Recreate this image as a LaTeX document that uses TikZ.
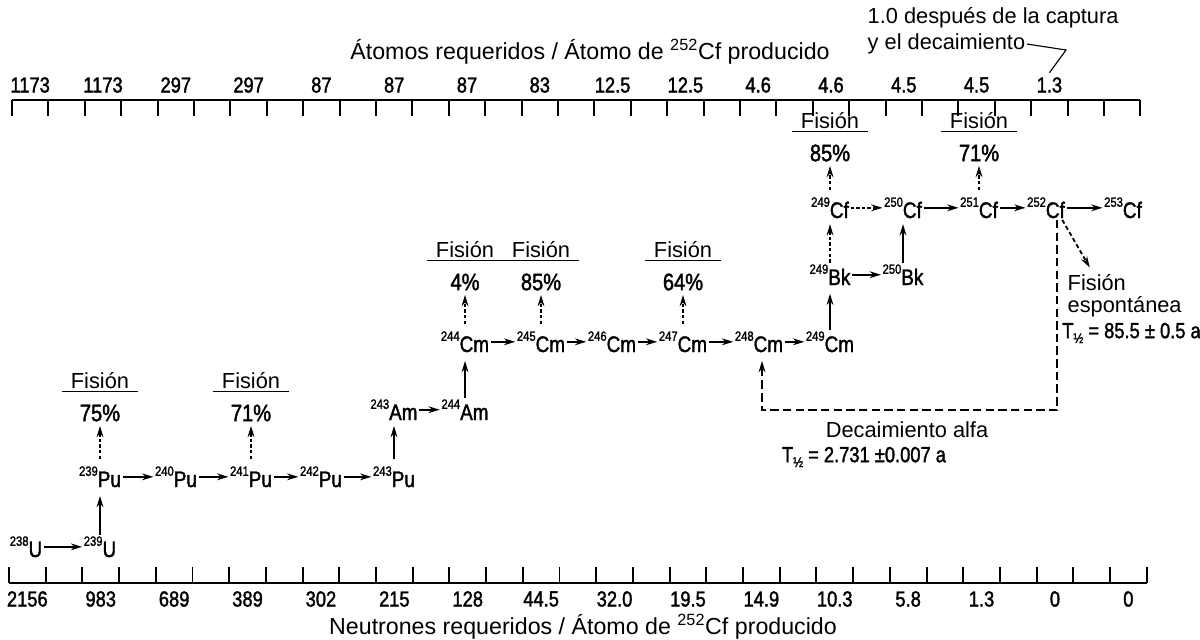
\documentclass[tikz,border=0pt]{standalone}
\usepackage{fontspec}
\setmainfont{Liberation Sans}
\newfontfamily\dinfont[FakeStretch=0.84, FakeBold=1.6]{Liberation Sans}
\usetikzlibrary{arrows.meta}
\newcommand\nucl[2]{\raisebox{8pt}{\fontsize{9.5}{9.5}\selectfont #1}#2}
\newcommand\thalf{T\raisebox{-3.5pt}{\fontsize{10}{10}\selectfont ½}}

\begin{document}
\begin{tikzpicture}[x=0.025cm, y=-0.025cm,
  nuc/.style={font=\dinfont\fontsize{16}{16}\selectfont, inner sep=1pt, anchor=base},
  num/.style={font=\dinfont\fontsize{15.5}{15.5}\selectfont, inner sep=0pt},
  pct/.style={font=\dinfont\fontsize{17}{17}\selectfont, inner sep=0pt},
  txt/.style={font=\fontsize{15.5}{18}\selectfont, inner sep=1pt},
  fisname/.style={txt, minimum width=54pt, inner sep=1.5pt},
  react/.style={-{Stealth[length=8pt,width=4.8pt]}, line width=1.3pt},
  reactd/.style={react, dash pattern=on 2.5pt off 1.5pt},
  alfa/.style={react, dash pattern=on 6pt off 3pt},
  axis/.style={line width=1.4pt},
  rule/.style={line width=1.3pt}]
\path[use as bounding box, fill=white] (0,0) rectangle (1200,639);

\draw[axis] (12,100) -- (1140.4,100);
\foreach \i in {0,...,31} \draw[axis] (12+36.4*\i,100) -- (12+36.4*\i,116);
\foreach \v [count=\i from 0] in {1173,1173,297,297,87,87,87,83,12.5,12.5,4.6,4.6,4.5,4.5,1.3}
  \node[num] (tl\i) at (30.2+72.8*\i,85) {\v};
\node[txt, font=\fontsize{16.5}{18}\selectfont] (ttop) at (590,52) {Átomos requeridos / Átomo de \textsuperscript{252}Cf producido};
\node[txt, anchor=west] (nota1) at (866,18) {1.0 después de la captura};
\node[txt, anchor=west] (nota2) at (866,44) {y el decaimiento};
\coordinate (kink) at (1066,50);
\draw[line width=0.8pt] (nota2.east) -- (kink) -- ([yshift=3pt]tl14.north);

\draw[axis] (9,583) -- (1146.7,583);
\foreach \i in {0,...,31} \draw[axis] (9+36.7*\i,583) -- (9+36.7*\i,567);
\foreach \v [count=\i from 0] in {2156,983,689,389,302,215,128,44.5,32.0,19.5,14.9,10.3,5.8,1.3,0,0}
  \node[num] (bl\i) at (27.35+73.4*\i,599) {\v};
\node[txt, font=\fontsize{16.5}{18}\selectfont] (tbot) at (583,627) {Neutrones requeridos / Átomo de \textsuperscript{252}Cf producido};

\node[nuc] (u238) at (26,557) {\nucl{238}{U}};
\node[nuc] (u239) at (100,557) {\nucl{239}{U}};
\node[nuc] (pu239) at (100,487) {\nucl{239}{Pu}};
\node[nuc] (pu240) at (176,487) {\nucl{240}{Pu}};
\node[nuc] (pu241) at (251,487) {\nucl{241}{Pu}};
\node[nuc] (pu242) at (321,487) {\nucl{242}{Pu}};
\node[nuc] (pu243) at (394,487) {\nucl{243}{Pu}};
\node[nuc] (am243) at (394,420) {\nucl{243}{Am}};
\node[nuc] (am244) at (465,420) {\nucl{244}{Am}};
\node[nuc] (cm244) at (465,352) {\nucl{244}{Cm}};
\node[nuc] (cm245) at (541,352) {\nucl{245}{Cm}};
\node[nuc] (cm246) at (612,352) {\nucl{246}{Cm}};
\node[nuc] (cm247) at (683,352) {\nucl{247}{Cm}};
\node[nuc] (cm248) at (759,352) {\nucl{248}{Cm}};
\node[nuc] (cm249) at (830,352) {\nucl{249}{Cm}};
\node[nuc] (bk249) at (830,285) {\nucl{249}{Bk}};
\node[nuc] (bk250) at (903,285) {\nucl{250}{Bk}};
\node[nuc] (cf249) at (830,218) {\nucl{249}{Cf}};
\node[nuc] (cf250) at (903,218) {\nucl{250}{Cf}};
\node[nuc] (cf251) at (979,218) {\nucl{251}{Cf}};
\node[nuc] (cf252) at (1046,218) {\nucl{252}{Cf}};
\node[nuc] (cf253) at (1123,218) {\nucl{253}{Cf}};

\draw[react] (u238.east) -- (u239.west);
\draw[react, shorten >=5pt] (u239.north) -- (pu239.south);
\draw[react] (pu239.east) -- (pu240.west);
\draw[react] (pu240.east) -- (pu241.west);
\draw[react] (pu241.east) -- (pu242.west);
\draw[react] (pu242.east) -- (pu243.west);
\draw[react, shorten <=4pt, shorten >=3pt] (pu243.north) -- (am243.south);
\draw[react] (am243.east) -- (am244.west);
\draw[react, shorten >=5pt] (am244.north) -- (cm244.south);
\draw[react] (cm244.east) -- (cm245.west);
\draw[react] (cm245.east) -- (cm246.west);
\draw[react] (cm246.east) -- (cm247.west);
\draw[react] (cm247.east) -- (cm248.west);
\draw[react] (cm248.east) -- (cm249.west);
\draw[react, shorten >=5pt] (cm249.north) -- (bk249.south);
\draw[react] (bk249.east) -- (bk250.west);
\draw[reactd, shorten >=3pt] (bk249.north) -- (cf249.south);
\draw[react, shorten >=3pt] (bk250.north) -- (cf250.south);
\draw[reactd] (cf249.east) -- (cf250.west);
\draw[react] (cf250.east) -- (cf251.west);
\draw[react] (cf251.east) -- (cf252.west);
\draw[react] (cf252.east) -- (cf253.west);

\foreach \s/\x/\y/\p [count=\k] in {pu239/100/413/75, pu241/251/413/71, cm244/465/282/4, cm245/541/282/85,
    cm247/683/282/64, cf249/830/153/85, cf251/979/153/71}{
  \node[pct] (pct\k) at (\x,\y) {\p\%};
  \node[fisname] (fis\k) at (\x,\y-32) {Fisión};
  \draw[rule] (fis\k.south west) -- (fis\k.south east);
  \draw[reactd, shorten <=4pt, shorten >=3pt] (\s.north) -- (pct\k.south);
}

\node[txt, anchor=west] (sf1) at (1066,283) {Fisión};
\node[txt, anchor=west] (sf2) at (1066,307) {espontánea};
\node[num, anchor=west] (sf3) at (1062,333) {\thalf{} = 85.5 ± 0.5 a};
\draw[react, dash pattern=on 3pt off 2pt] ([xshift=-3pt]cf252.south east) -- ([xshift=-5pt,yshift=4pt]sf1.north);

\coordinate (a1) at (1057,410);
\coordinate (a2) at (762,410);
\draw[alfa, shorten >=5pt] (cf252.south -| a1) -- (a1) -- (a2) -- (cm248.south -| a2);
\node[txt] (alfa1) at (907,430) {Decaimiento alfa};
\node[num] (alfa2) at (864,457) {\thalf{} = 2.731 ±0.007 a};
\end{tikzpicture}
\end{document}
